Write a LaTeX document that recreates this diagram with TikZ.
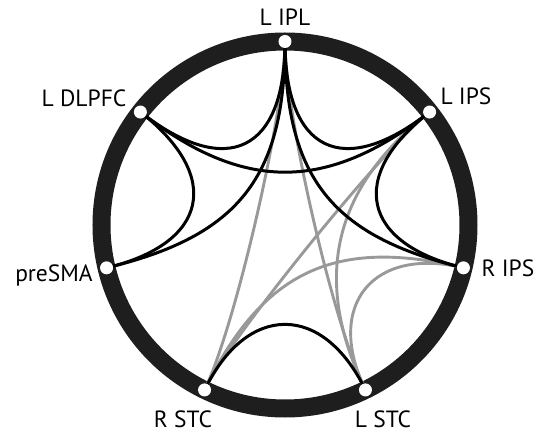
\documentclass[tikz,border=0pt]{standalone}
\usepackage{fontspec}
\setmainfont{PT Sans}
\usetikzlibrary{calc,backgrounds}
\definecolor{ringcol}{RGB}{30,30,30}
\tikzset{
    dot/.style={circle,fill=white,inner sep=0pt,minimum size=13pt},
    lbl/.style={anchor=base,font=\fontsize{23.5}{23.5}\selectfont,inner sep=0pt},
    strong/.style={line width=3pt,black},
    weak/.style={line width=2.9pt,black!40},
}
\newcommand{\region}[4]{
    \node[dot] (#1) at (#2:183.5) {};
    \node[lbl] (#1-lbl) at (#3) {#4};
}
\newcommand{\link}[4][0.4]{
    \draw[#2] (#3.center) .. controls ($(o)!#1!(#3.center)$) and ($(o)!#1!(#4.center)$) .. (#4.center);
}
\begin{document}
\begin{tikzpicture}[x=1pt,y=1pt]
    \useasboundingbox (-285,-211) rectangle (253,225);
    \coordinate (o) at (0,0);
    \region{ipl}{90}{0,199}{L IPL}
    \region{lips}{38}{181,120}{L IPS}
    \region{dlpfc}{142}{-201,118}{L DLPFC}
    \region{presma}{193.5}{-231,-57}{preSMA}
    \region{rips}{-13.5}{223,-52}{R IPS}
    \region{rstc}{244}{-102,-202}{R STC}
    \region{lstc}{296}{98,-202}{L STC}
    \begin{scope}[on background layer]
        \draw[ringcol,line width=18pt] (o) circle (183.5);
        % grey links
        \link[0.62]{weak}{ipl}{rstc}
        \link[0.6]{weak}{ipl}{lstc}
        \link[0.68]{weak}{lips}{rstc}
        \link[0.33]{weak}{lips}{lstc}
        \link[0.28]{weak}{rips}{rstc}
        \link[0.49]{weak}{rips}{lstc}
        % black links
        \link{strong}{ipl}{dlpfc}
        \link{strong}{ipl}{lips}
        \link[0.29]{strong}{dlpfc}{lips}
        \link[0.43]{strong}{dlpfc}{presma}
        \link[0.43]{strong}{lips}{rips}
        \link[0.26]{strong}{ipl}{presma}
        \link[0.26]{strong}{ipl}{rips}
        \link[0.47]{strong}{rstc}{lstc}
    \end{scope}
\end{tikzpicture}
\end{document}
